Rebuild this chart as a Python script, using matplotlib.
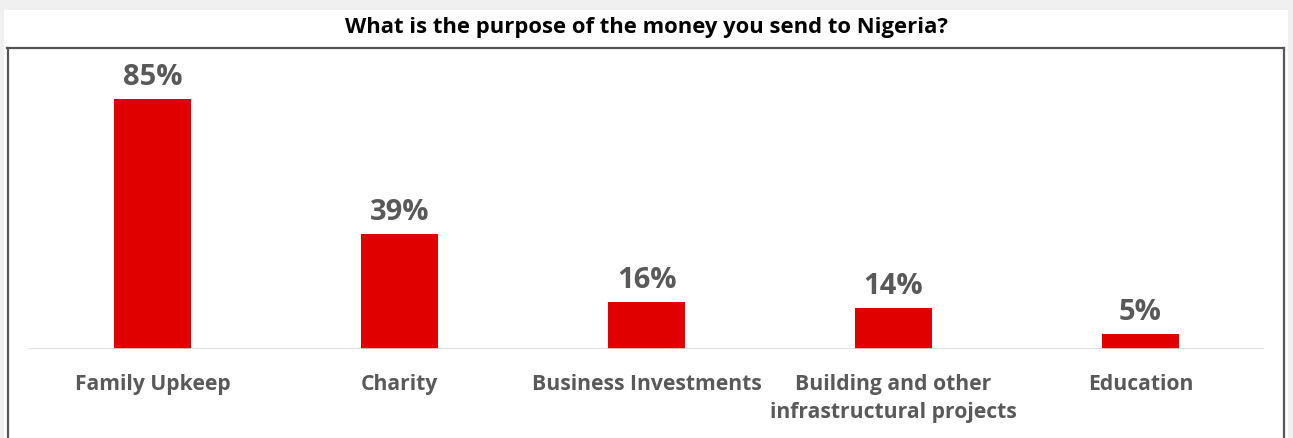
import matplotlib
matplotlib.use("Agg")
import matplotlib.pyplot as plt
from matplotlib.patches import Rectangle
from matplotlib.lines import Line2D

categories = ["Family Upkeep", "Charity", "Business Investments",
              "Building and other\ninfrastructural projects", "Education"]
shares = [85, 39, 16, 14, 5]
value_labels = ["85%", "39%", "16%", "14%", "5%"]
title = "What is the purpose of the money you send to Nigeria?"

FONT = "Open Sans"
W, H = 1293, 438
fig = plt.figure(figsize=(W / 100, H / 100), dpi=100, facecolor="#f0f0f0")

def fx(px):
    return px / W

def fy(py):
    return 1 - py / H

# white card behind the chart
fig.patches.append(Rectangle((fx(4), 0), fx(1288) - fx(4), fy(10), transform=fig.transFigure,
                             facecolor="white", edgecolor="none", zorder=0))
# dark frame around the plot region
frame_kw = dict(transform=fig.transFigure, color="#555555", linewidth=1.6, zorder=1)
fig.lines.append(Line2D([fx(7), fx(1283.5)], [fy(47.5), fy(47.5)], **frame_kw))
fig.lines.append(Line2D([fx(7.5), fx(7.5)], [fy(47.5), 0], **frame_kw))
fig.lines.append(Line2D([fx(1283.5), fx(1283.5)], [fy(47.5), 0], **frame_kw))

fig.text(fx(646), fy(27), title, ha="center", va="center", fontsize=15.8,
         fontweight="bold", family=FONT, color="black")

ax = fig.add_axes([fx(29), fy(349), fx(1264) - fx(29), fy(55) - fy(349)])
ax.set_zorder(5)
ax.set_facecolor("none")
x = list(range(len(categories)))
ax.bar(x, shares, width=0.31, color="#e00000", zorder=2)
ax.set_xlim(-0.5, len(categories) - 0.5)
ax.set_ylim(0, 100)
ax.axhline(0, color="#d9d9d9", linewidth=1.2, zorder=3)

for xi, v, lab in zip(x, shares, value_labels):
    ax.annotate(lab, (xi, v), xytext=(0, 10), textcoords="offset points",
                ha="center", va="baseline", fontsize=21, fontweight="bold",
                family=FONT, color="#595959")

for s in ax.spines.values():
    s.set_visible(False)
ax.set_yticks([])
ax.set_xticks(x)
ax.set_xticklabels(categories, fontsize=15.2, fontweight="bold", family=FONT,
                   color="#595959", linespacing=1.42, va="top")
ax.tick_params(axis="x", length=0, pad=18)

fig.savefig("out.png", dpi=100, facecolor=fig.get_facecolor())
